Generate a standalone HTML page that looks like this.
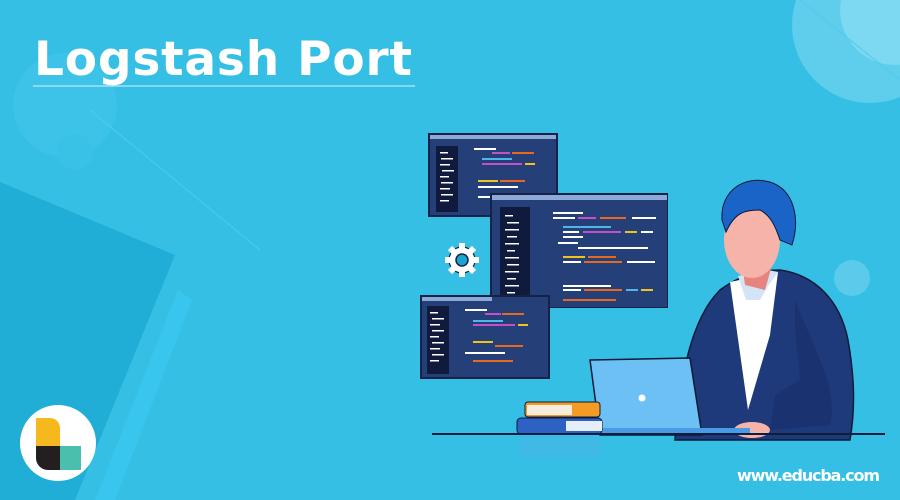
<!DOCTYPE html>
<html><head><meta charset="utf-8"><style>
html,body{margin:0;padding:0;width:900px;height:500px;overflow:hidden;background:#35bfe5}
</style></head><body>
<svg width="900" height="500" viewBox="0 0 900 500" xmlns="http://www.w3.org/2000/svg">
<rect width="900" height="500" fill="#35bfe5"/>
<circle cx="870" cy="25" r="78" fill="#5fcdec"/>
<circle cx="895" cy="10" r="55" fill="#7dd8f1"/>
<circle cx="65" cy="105" r="52" fill="#3cc3e7"/>
<circle cx="75" cy="152" r="18" fill="#3ac2e6"/>
<circle cx="852" cy="278" r="18" fill="#5ccbeb"/>
<line x1="90" y1="110" x2="260" y2="250" stroke="#4fcbed" stroke-width="1"/>
<line x1="800" y1="0" x2="900" y2="80" stroke="#4fcbed" stroke-width="1"/>
<polygon points="0,182 175,255 75,500 0,500" fill="#20add6"/>
<polygon points="178,290 192,300 115,500 95,500" fill="#38c6ee"/>
<!-- title -->
<text x="34" y="75" font-family="'DejaVu Sans','Liberation Sans',sans-serif" font-weight="bold" font-size="47" fill="#fff" textLength="378">Logstash Port</text>
<line x1="33" y1="86" x2="415" y2="86" stroke="#d8f3fb" stroke-width="1"/>
<!-- logo -->
<circle cx="58" cy="443" r="38" fill="#fff"/>
<path d="M36,418 H50 A10,10 0 0 1 60,428 V446 H36 Z" fill="#f5b91d"/>
<path d="M36,446 H60 V470 H48 A12,12 0 0 1 36,458 Z" fill="#231f20"/>
<rect x="60" y="446" width="21" height="24" fill="#4bbfad"/>
<!-- windows -->
<g>
<rect x="428" y="133" width="130" height="84" fill="#152248"/>
<rect x="430" y="135" width="126" height="80" fill="#253f78"/>
<rect x="430" y="135" width="126" height="4" fill="#8ea8d8"/>
<rect x="436" y="146" width="22" height="66" fill="#0f1a3c"/>
<g fill="#fff"><rect x="440" y="152" width="8" height="1.5"/><rect x="441" y="158" width="12" height="1.5"/><rect x="440" y="164" width="10" height="1.5"/><rect x="442" y="170" width="12" height="1.5"/><rect x="440" y="176" width="9" height="1.5"/><rect x="441" y="182" width="12" height="1.5"/><rect x="440" y="188" width="10" height="1.5"/><rect x="441" y="194" width="12" height="1.5"/><rect x="440" y="200" width="9" height="1.5"/></g>
<rect x="474" y="148" width="22" height="2" fill="#fff"/><rect x="492" y="152" width="18" height="2" fill="#c44fc7"/><rect x="512" y="152" width="22" height="2" fill="#e56a1f"/>
<rect x="482" y="158" width="30" height="2" fill="#4fb5ea"/><rect x="482" y="163" width="40" height="2" fill="#c44fc7"/><rect x="525" y="163" width="10" height="2" fill="#f0c419"/>
<rect x="478" y="180" width="20" height="2" fill="#f0c419"/><rect x="500" y="180" width="25" height="2" fill="#e56a1f"/><rect x="478" y="186" width="40" height="2" fill="#fff"/><rect x="478" y="196" width="25" height="2" fill="#fff"/>
</g>
<g>
<rect x="490" y="193" width="178" height="115" fill="#152248"/>
<rect x="492" y="195" width="175" height="112" fill="#253f78"/>
<rect x="492" y="195" width="175" height="5" fill="#8ea8d8"/>
<rect x="500" y="207" width="30" height="97" fill="#0f1a3c"/>
<g fill="#fff"><rect x="505" y="215" width="8" height="1.5"/><rect x="507" y="222" width="12" height="1.5"/><rect x="505" y="229" width="14" height="1.5"/><rect x="507" y="236" width="10" height="1.5"/><rect x="505" y="243" width="14" height="1.5"/><rect x="507" y="250" width="8" height="1.5"/><rect x="505" y="257" width="14" height="1.5"/><rect x="507" y="264" width="12" height="1.5"/><rect x="505" y="271" width="14" height="1.5"/><rect x="507" y="278" width="9" height="1.5"/><rect x="505" y="285" width="14" height="1.5"/><rect x="507" y="292" width="8" height="1.5"/></g>
<rect x="553" y="212" width="30" height="2" fill="#fff"/><rect x="553" y="217" width="22" height="2" fill="#fff"/><rect x="578" y="217" width="18" height="2" fill="#c44fc7"/><rect x="600" y="217" width="26" height="2" fill="#e56a1f"/><rect x="632" y="217" width="24" height="2" fill="#fff"/>
<rect x="563" y="226" width="48" height="2" fill="#4fb5ea"/><rect x="563" y="231" width="16" height="2" fill="#fff"/><rect x="583" y="231" width="38" height="2" fill="#c44fc7"/><rect x="625" y="231" width="12" height="2" fill="#f0c419"/><rect x="641" y="231" width="12" height="2" fill="#fff"/>
<rect x="563" y="236" width="20" height="2" fill="#fff"/><rect x="558" y="242" width="20" height="2" fill="#fff"/><rect x="578" y="247" width="70" height="2" fill="#fff"/>
<rect x="563" y="256" width="22" height="2" fill="#f0c419"/><rect x="588" y="256" width="28" height="2" fill="#e56a1f"/><rect x="563" y="261" width="18" height="2" fill="#fff"/><rect x="584" y="261" width="38" height="2" fill="#e56a1f"/><rect x="627" y="261" width="28" height="2" fill="#fff"/>
<rect x="563" y="285" width="48" height="2" fill="#fff"/><rect x="563" y="289" width="18" height="2" fill="#fff"/><rect x="584" y="289" width="38" height="2" fill="#e56a1f"/><rect x="626" y="289" width="12" height="2" fill="#4fb5ea"/><rect x="641" y="289" width="12" height="2" fill="#f0c419"/>
<rect x="563" y="299" width="53" height="2" fill="#e56a1f"/>
</g>
<g>
<rect x="420" y="295" width="130" height="84" fill="#152248"/>
<rect x="422" y="297" width="126" height="80" fill="#253f78"/>
<rect x="422" y="297" width="70" height="4" fill="#8ea8d8"/>
<rect x="427" y="306" width="22" height="68" fill="#0f1a3c"/>
<g fill="#fff"><rect x="430" y="312" width="8" height="1.5"/><rect x="432" y="318" width="12" height="1.5"/><rect x="430" y="324" width="10" height="1.5"/><rect x="432" y="330" width="12" height="1.5"/><rect x="430" y="336" width="9" height="1.5"/><rect x="432" y="342" width="12" height="1.5"/><rect x="430" y="348" width="10" height="1.5"/><rect x="432" y="354" width="12" height="1.5"/><rect x="430" y="360" width="9" height="1.5"/></g>
<rect x="465" y="309" width="22" height="2" fill="#fff"/><rect x="485" y="313" width="16" height="2" fill="#c44fc7"/><rect x="502" y="313" width="22" height="2" fill="#e56a1f"/>
<rect x="473" y="320" width="30" height="2" fill="#4fb5ea"/><rect x="473" y="324" width="42" height="2" fill="#c44fc7"/><rect x="518" y="324" width="10" height="2" fill="#f0c419"/>
<rect x="473" y="341" width="20" height="2" fill="#f0c419"/><rect x="495" y="345" width="28" height="2" fill="#e56a1f"/><rect x="473" y="360" width="40" height="2" fill="#e56a1f"/><rect x="465" y="352" width="40" height="2" fill="#fff"/>
</g>
<!-- gear -->
<g transform="translate(462,260)">
<g fill="#fff" stroke="#152248" stroke-width="1.2">
<circle r="13"/>
</g>
<g fill="#fff"><rect x="-3" y="-17" width="6" height="34"/><rect x="-3" y="-17" width="6" height="34" transform="rotate(45)"/><rect x="-3" y="-17" width="6" height="34" transform="rotate(90)"/><rect x="-3" y="-17" width="6" height="34" transform="rotate(135)"/></g>
<circle r="6" fill="#1ea4d0" stroke="#152248" stroke-width="1.5"/>
</g>
<!-- person -->
<path d="M675,440 C680,380 690,320 720,290 C740,275 760,270 780,270 C815,275 840,300 848,340 C855,380 855,410 850,440 Z" fill="#1f3a7a" stroke="#0e1a3a" stroke-width="1.5"/>
<path d="M730,282 L778,272 L770,335 L748,410 Z" fill="#fff"/>
<path d="M738,276 L746,300 L760,300 L768,286 L778,272 L768,270 Z" fill="#d4e4f7"/>
<path d="M740,250 L745,285 L765,290 L772,265 Z" fill="#e8847e"/>
<ellipse cx="752" cy="240" rx="28" ry="38" fill="#f6b3a9"/>
<path d="M722,220 C720,190 745,175 770,182 C795,190 800,220 792,245 L780,240 C775,225 770,215 760,210 C745,210 735,212 726,232 Z" fill="#1a64c8" stroke="#0e1a3a" stroke-width="1"/>
<path d="M795,300 C810,340 840,390 830,425 L770,430 L775,395 L800,380 L795,330 Z" fill="#1a3370"/>
<ellipse cx="752" cy="430" rx="18" ry="8" fill="#f6b3a9"/>
<!-- laptop -->
<path d="M590,360 L690,358 L702,435 L600,435 Z" fill="#6cc0f4" stroke="#0e1a3a" stroke-width="1.5"/>
<rect x="600" y="428" width="150" height="7" fill="#4a9ae6"/>
<circle cx="642" cy="398" r="3.5" fill="#fff"/>
<!-- books -->
<rect x="525" y="402" width="75" height="15" rx="3" fill="#f39b24" stroke="#0e1a3a" stroke-width="1"/>
<rect x="527" y="405" width="45" height="10" fill="#f4ede0"/>
<rect x="517" y="418" width="85" height="16" rx="4" fill="#2d62c4" stroke="#0e1a3a" stroke-width="1"/>
<rect x="566" y="421" width="36" height="10" fill="#e6eef8"/>
<line x1="432" y1="434" x2="885" y2="434" stroke="#0f1d3e" stroke-width="2"/>
<rect x="520" y="437" width="80" height="20" fill="#48b6e8" opacity="0.6"/>
<text x="737" y="481" font-family="'DejaVu Sans','Liberation Sans',sans-serif" font-weight="bold" font-size="16" fill="#fff" textLength="143">www.educba.com</text>
</svg>
</body></html>
